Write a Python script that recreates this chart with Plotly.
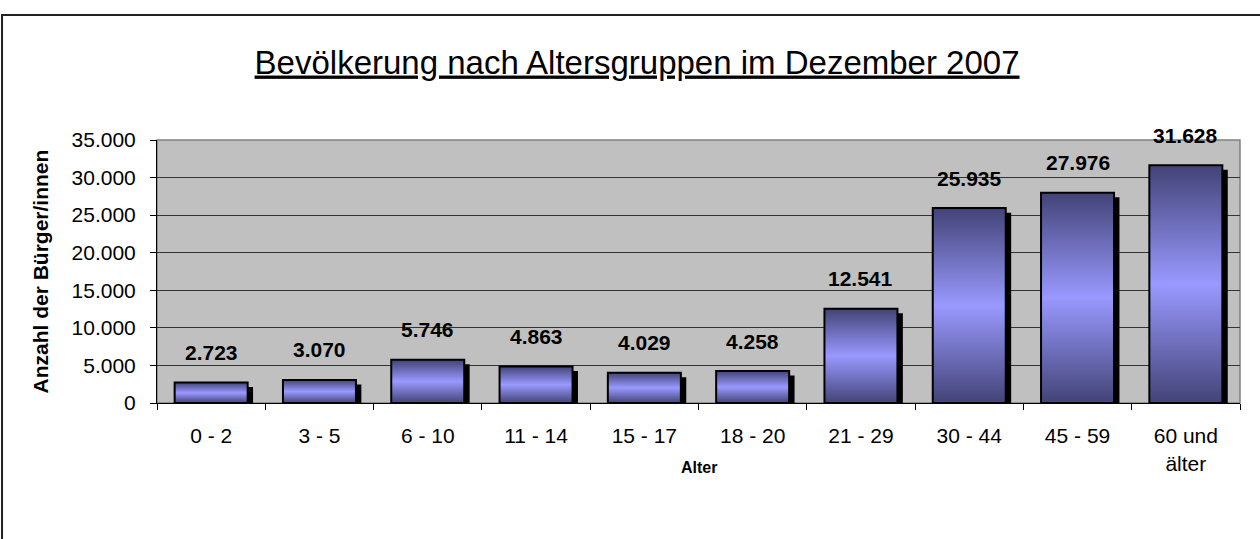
import plotly.graph_objects as go

categories = ["0 - 2", "3 - 5", "6 - 10", "11 - 14", "15 - 17", "18 - 20",
              "21 - 29", "30 - 44", "45 - 59", "60 und<br>älter"]
values = [2723, 3070, 5746, 4863, 4029, 4258, 12541, 25935, 27976, 31628]

title_text = "Bevölkerung nach Altersgruppen im Dezember 2007"
y_title = "Anzahl der Bürger/innen"
x_title = "Alter"

FONT = "Liberation Sans, Arial, sans-serif"
DARK = "#434377"
LIGHT = "#9999ff"
BAR_W = 0.674
SH_DX = 0.05      # shadow offset (x data units)
SH_DY = 600       # shadow offset (y data units)

fig = go.Figure()

for i, v in enumerate(values):
    x0, x1 = i - BAR_W / 2, i + BAR_W / 2
    # shadow
    fig.add_trace(go.Scatter(
        x=[x0 + SH_DX, x1 + SH_DX, x1 + SH_DX, x0 + SH_DX, x0 + SH_DX],
        y=[0, 0, v - SH_DY, v - SH_DY, 0],
        fill="toself", fillcolor="black", mode="lines",
        line=dict(color="black", width=0), hoverinfo="skip", showlegend=False))
    # bar with vertical gradient
    fig.add_trace(go.Scatter(
        x=[x0, x1, x1, x0, x0],
        y=[0, 0, v, v, 0],
        fill="toself", mode="lines",
        fillgradient=dict(type="vertical",
                          colorscale=[[0, DARK], [0.5, LIGHT], [1, DARK]]),
        line=dict(color="black", width=2),
        name=categories[i].replace("<br>", " "), showlegend=False))

# value labels
for i, v in enumerate(values):
    fig.add_annotation(x=i, y=v, yshift=30, text="<b>" + f"{v:,}".replace(",", ".") + "</b>",
                       showarrow=False, font=dict(family=FONT, size=21, color="black"))

# axis titles
fig.add_annotation(xref="paper", yref="paper", x=0.5, y=-0.247, xanchor="center", yanchor="middle",
                   text="<b>" + x_title + "</b>",
                   showarrow=False, font=dict(family=FONT, size=16, color="black"))
fig.add_annotation(xref="paper", yref="paper", x=-0.108, y=0.5, xanchor="center", yanchor="middle",
                   text="<b>" + y_title + "</b>",
                   textangle=-90, showarrow=False, font=dict(family=FONT, size=21, color="black"))

# chart border (left/top visible; right/bottom edges lie outside the page)
fig.add_shape(type="rect", xref="paper", yref="paper",
              x0=-0.1431, x1=1.3, y0=-1.0, y1=1.4753,
              line=dict(color="#222222", width=2), layer="below")
# plot area border
fig.add_shape(type="rect", xref="paper", yref="paper", x0=0, x1=1, y0=0, y1=1,
              line=dict(color="#808080", width=1.5), layer="below")

fig.update_layout(
    width=1260, height=539,
    paper_bgcolor="white", plot_bgcolor="#c0c0c0",
    margin=dict(l=157, r=20, t=140, b=136),
    separators=",.",
    font=dict(family=FONT, size=21, color="black"),
    title=dict(text="<u>" + title_text + "</u>", x=0.5056, xref="container", xanchor="center",
               y=1 - 62 / 539, yref="container", yanchor="middle",
               font=dict(family=FONT, size=33, color="black")),
    xaxis=dict(range=[-0.5, 9.5], tickmode="array", tickvals=list(range(len(categories))),
               ticktext=categories, ticks="", showgrid=False, zeroline=False,
               showline=True, linecolor="black", linewidth=1,
               ticklabelstandoff=14,
               tickfont=dict(family=FONT, size=21, color="black"),
               minor=dict(tickmode="array", tickvals=[i - 0.5 for i in range(len(categories) + 1)],
                          ticks="outside", ticklen=6, tickcolor="black", tickwidth=1, showgrid=False)),
    yaxis=dict(range=[0, 35000], tickmode="linear", tick0=0, dtick=5000, tickformat=",d",
               ticks="outside", ticklen=6, tickcolor="black", tickwidth=1,
               showgrid=True, gridcolor="#333333", gridwidth=1, zeroline=False,
               showline=True, linecolor="black", linewidth=1,
               ticklabelstandoff=10,
               tickfont=dict(family=FONT, size=21, color="black")),
)

fig.write_html("out.html", config={"displayModeBar": False},
               post_script="document.body.style.margin='0';document.body.style.overflow='hidden';")
